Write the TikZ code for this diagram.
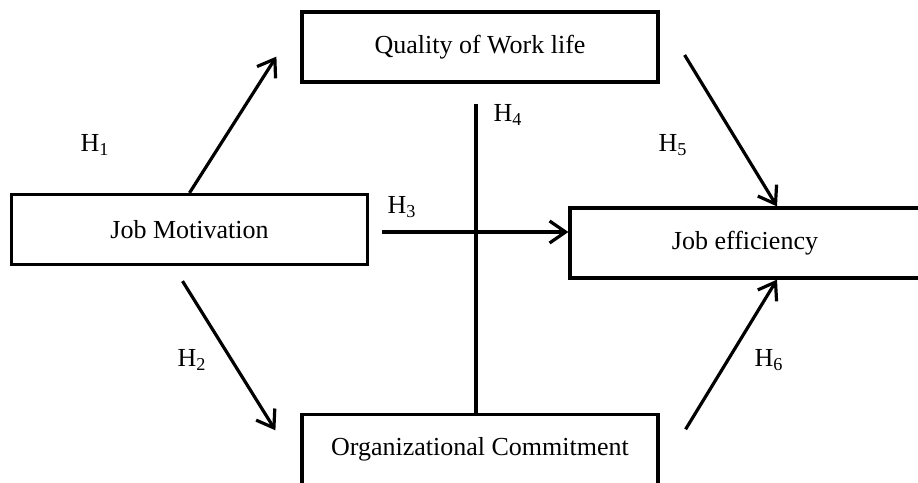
\documentclass[tikz,border=0pt]{standalone}
\usepackage{fontspec}
\setmainfont{Liberation Serif}
\usetikzlibrary{calc}
\usetikzlibrary{arrows.meta}

\begin{document}
\begin{tikzpicture}[x=0.5pt,y=-0.5pt,
    font=\fontsize{13}{15}\selectfont,
    varbox/.style={draw,line width=1.6pt,minimum width=178pt,minimum height=35pt,inner sep=0pt},
    hyp/.style={line width=1.6pt,-{Straight Barb[length=8pt,width=11pt]}},
    hlabel/.style={inner sep=0pt}]
      \useasboundingbox (0,0) rectangle (918,483);
      \clip (0,0) rectangle (918,483);
      \node[varbox] (qwl) at (480,47) {Quality of Work life};
      \node[varbox] (jm) at (189.5,229.5) {Job Motivation};
      \node[varbox,minimum width=175pt] (je) at (745,243) {Job efficiency};
      \node[varbox,minimum height=35.2pt] (oc) at (480,449.3) {Organizational Commitment};
      \draw[hyp] (jm.north) -- ($(qwl.south west)+(-24,-27)$);
      \draw[hyp] ($(jm.south)+(-7,15)$) -- ($(oc.west)+(-25,-19)$);
      \draw[hyp] ($(jm.east)+(13,2.5)$) -- ($(je.west)+(0,-11)$);
      \draw[line width=1.6pt] ($(qwl.south)+(-4,20)$) -- ($(oc.north)+(-4,0)$);
      \draw[hyp] ($(qwl.east)+(25,8)$) -- ($(je.north)+(32,0)$);
      \draw[hyp] ($(oc.east)+(26,-20)$) -- ($(je.south)+(32,0)$);
      \node[hlabel] (h1) at (95,145) {H\textsubscript{1}};
      \node[hlabel] (h2) at (192,360) {H\textsubscript{2}};
      \node[hlabel] (h3) at (402,207) {H\textsubscript{3}};
      \node[hlabel] (h4) at (508,115) {H\textsubscript{4}};
      \node[hlabel] (h5) at (673,145) {H\textsubscript{5}};
      \node[hlabel] (h6) at (769,360) {H\textsubscript{6}};
\end{tikzpicture}
\end{document}
